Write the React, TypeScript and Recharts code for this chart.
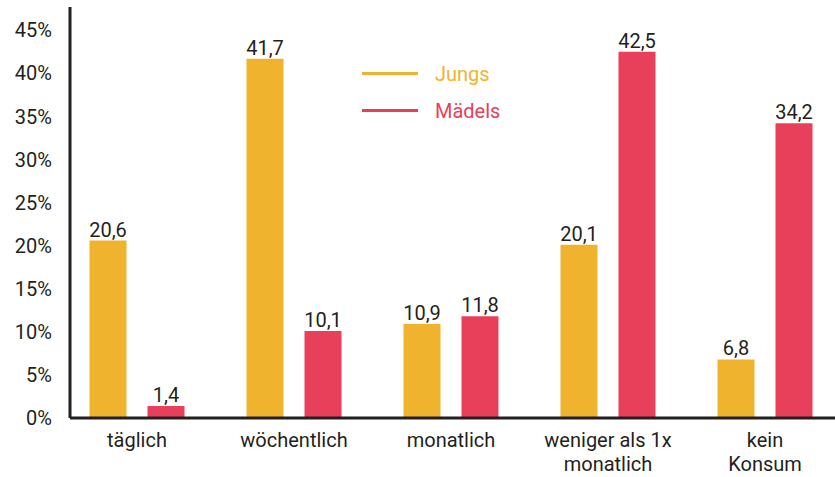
import React from 'react'
import { BarChart, Bar, XAxis, YAxis, LabelList, Legend } from 'recharts'

const categories = ['täglich', 'wöchentlich', 'monatlich', 'weniger als 1x\nmonatlich', 'kein\nKonsum']
const jungs = [20.6, 41.7, 10.9, 20.1, 6.8]
const maedels = [1.4, 10.1, 11.8, 42.5, 34.2]
const yTicks = [0, 5, 10, 15, 20, 25, 30, 35, 40, 45]

const ORANGE = '#F0B32D'
const RED = '#E8405A'
const INK = '#231F20'
const FONT = 'Roboto, "DejaVu Sans", sans-serif'

const data = categories.map((name, i) => ({ name, Jungs: jungs[i], Mädels: maedels[i] }))

function CategoryTick({ x, y, payload }: any) {
  const lines = String(payload.value).split('\n')
  return (
    <text x={x} y={y} textAnchor="middle" fill={INK} fontSize={20} fontFamily={FONT}>
      {lines.map((l, i) => (
        <tspan key={i} x={x} dy={i === 0 ? 21 : 24}>{l}</tspan>
      ))}
    </text>
  )
}

function LineLegend() {
  const items = [
    { label: 'Jungs', color: ORANGE },
    { label: 'Mädels', color: RED },
  ]
  return (
    <div style={{ fontFamily: FONT }}>
      {items.map((it) => (
        <div key={it.label} style={{ display: 'flex', alignItems: 'center', height: 37 }}>
          <div style={{ width: 56, height: 3, background: it.color, marginRight: 17 }} />
          <span style={{ color: it.color, fontSize: 20 }}>{it.label}</span>
        </div>
      ))}
    </div>
  )
}

export default function App() {
  return (
    <div style={{ position: 'absolute', left: 0, top: 0, background: '#fff' }}>
      <BarChart
        width={835}
        height={477}
        data={data}
        margin={{ top: 7, right: 0, bottom: 0, left: 0 }}
        barSize={37}
        barGap={21}
      >
        <XAxis
          dataKey="name"
          height={59}
          padding={{ left: -11.5, right: -8.5 }}
          axisLine={{ stroke: INK, strokeWidth: 3 }}
          tickLine={false}
          tick={<CategoryTick />}
          interval={0}
        />
        <YAxis
          width={70}
          domain={[0, 47.7]}
          ticks={yTicks}
          allowDataOverflow
          axisLine={{ stroke: INK, strokeWidth: 3 }}
          tickLine={false}
          tickSize={0}
          tickMargin={18}
          tickFormatter={(v) => `${v}%`}
          tick={{ fill: INK, fontSize: 20, fontFamily: FONT }}
        />
        <Legend
          layout="vertical"
          verticalAlign="middle"
          align="center"
          wrapperStyle={{ left: 362, top: 55, width: 200 }}
          content={<LineLegend />}
        />
        <Bar dataKey="Jungs" fill={ORANGE} isAnimationActive={false}>
          <LabelList
            dataKey="Jungs"
            position="top"
            offset={4}
            formatter={(v: any) => String(v).replace('.', ',')}
            style={{ fill: INK, fontSize: 20, fontFamily: FONT }}
          />
        </Bar>
        <Bar dataKey="Mädels" fill={RED} isAnimationActive={false}>
          <LabelList
            dataKey="Mädels"
            position="top"
            offset={4}
            formatter={(v: any) => String(v).replace('.', ',')}
            style={{ fill: INK, fontSize: 20, fontFamily: FONT }}
          />
        </Bar>
      </BarChart>
    </div>
  )
}
